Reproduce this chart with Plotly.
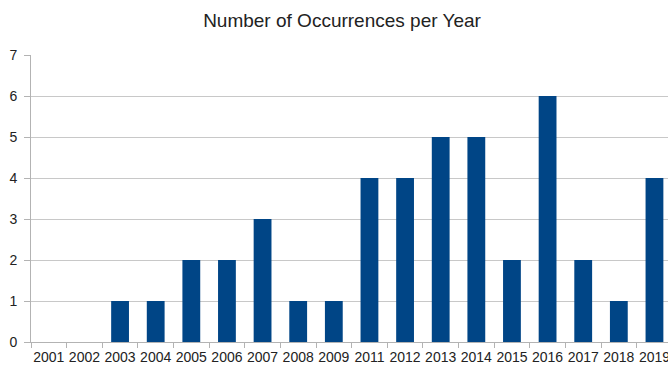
import plotly.graph_objects as go

years = ["2001", "2002", "2003", "2004", "2005", "2006", "2007", "2008", "2009",
         "2011", "2012", "2013", "2014", "2015", "2016", "2017", "2018", "2019"]
counts = [0, 0, 1, 1, 2, 2, 3, 1, 1, 4, 4, 5, 5, 2, 6, 2, 1, 4]
y_ticks = [0, 1, 2, 3, 4, 5, 6, 7]

fig = go.Figure(go.Bar(x=years, y=counts, marker=dict(color="#004586", line=dict(width=0))))

fig.update_layout(
    width=668, height=366,
    margin=dict(l=31, r=0, t=55, b=24),
    paper_bgcolor="white", plot_bgcolor="white",
    font=dict(family="Liberation Sans, Arial, sans-serif", size=14, color="#222"),
    title=dict(text="Number of Occurrences per Year", x=342 / 668, xanchor="center",
               y=1 - 20 / 366, yanchor="middle", yref="container", xref="container",
               font=dict(size=19, color="#222")),
    bargap=0.5,
    showlegend=False,
)
fig.update_xaxes(type="category", range=[-0.5, 17.38], tickson="boundaries",
                 ticks="outside", ticklen=5, tickcolor="#b3b3b3", tickangle=0,
                 automargin=False, ticklabelstandoff=2,
                 showline=True, linecolor="#b3b3b3", showgrid=False, fixedrange=True)
fig.update_yaxes(range=[0, 7], tickvals=y_ticks, ticks="outside", ticklen=6,
                 tickcolor="#b3b3b3", showline=True, linecolor="#b3b3b3",
                 automargin=False,
                 gridcolor="#c8c8c8", zeroline=False, ticklabelstandoff=4)

fig.write_html("out.html", config={"displayModeBar": False})
